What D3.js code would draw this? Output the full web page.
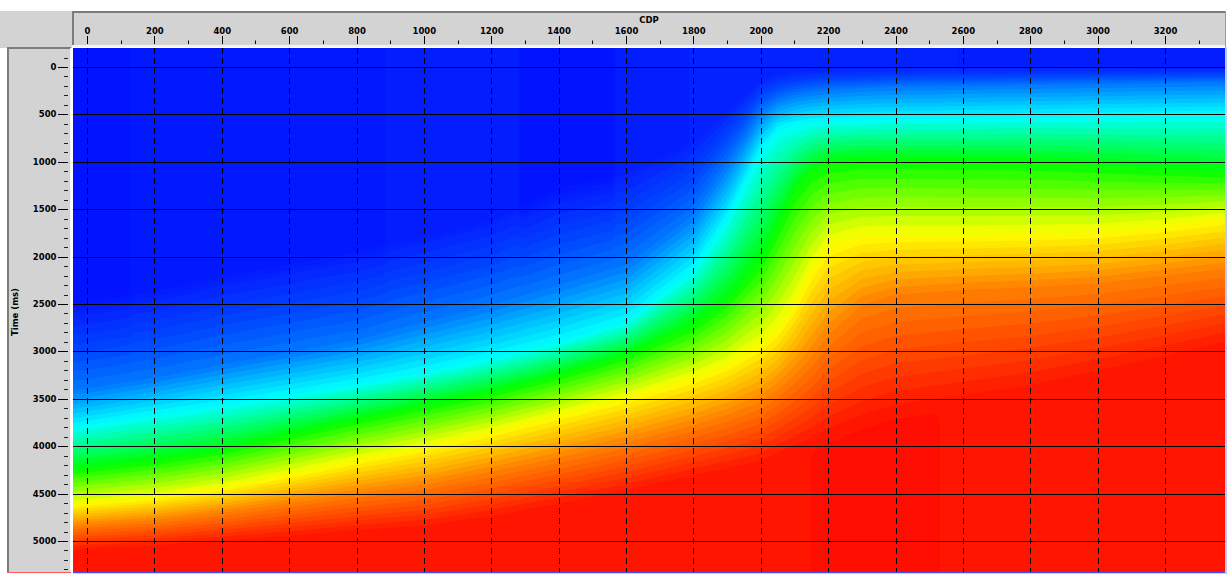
<!DOCTYPE html>
<html>
<head>
<meta charset="utf-8">
<script src="https://cdn.jsdelivr.net/npm/d3@7"></script>
<style>
  body { margin: 0; background: #fff; }
  svg { display: block; }
  text { font-family: "DejaVu Sans", sans-serif; font-weight: bold; font-size: 8.5px; fill: #000; }
</style>
</head>
<body>
<svg id="chart" width="1227" height="574"></svg>
<script>
// ---- Velocity model: interval-velocity horizons picked along CDP ----
const cdpNodes = [-50, 0, 200, 400, 600, 800, 1000, 1200, 1400, 1600, 1800, 1900,
                  2000, 2050, 2100, 2150, 2200, 2300, 2400, 2600, 2800, 3000, 3200, 3400];

// two-way time (ms) where the near-surface velocity starts to increase
const tEdge   = [2460, 2440, 2350, 2190, 2060, 1930, 1770, 1590, 1250, 1100, 770, 450,
                 120, 70, 40, 30, 20, 20, 10, 0, 0, 0, 0, 0];
// two-way time (ms) at which each velocity level is reached
const tBlue   = [3410, 3390, 3280, 3140, 3010, 2880, 2690, 2510, 2300, 2090, 1560, 1030,
                 475, 350, 295, 265, 245, 220, 210, 200, 190, 180, 170, 160];
const tCyan   = [3810, 3780, 3670, 3570, 3460, 3350, 3220, 3070, 2900, 2690, 2140, 1610,
                 880, 670, 610, 580, 570, 560, 550, 540, 530, 520, 510, 500];
const tGreen  = [4250, 4230, 4150, 4040, 3880, 3720, 3570, 3430, 3250, 3040, 2720, 2460,
                 2040, 1670, 1300, 1090, 1010, 980, 980, 990, 1000, 1030, 1070, 1110];
const tYellow = [4620, 4600, 4540, 4440, 4300, 4150, 4010, 3850, 3670, 3490, 3280, 3140,
                 2930, 2770, 2510, 2140, 1880, 1780, 1770, 1770, 1760, 1740, 1680, 1590];
const tOrange = [4850, 4830, 4780, 4700, 4600, 4500, 4410, 4270, 4120, 3960, 3780, 3670,
                 3530, 3410, 3250, 3070, 2830, 2510, 2400, 2350, 2320, 2280, 2200, 2120];
const tRed    = [5100, 5070, 5040, 4990, 4940, 4880, 4830, 4730, 4600, 4460, 4300, 4230,
                 4150, 4060, 3990, 3910, 3810, 3670, 3560, 3460, 3350, 3200, 3040, 2880];

// velocity (m/s) attached to each horizon below the edge
const levelVel = [2000, 2400, 2800, 3200, 3600, 4000];

// near-surface velocity, with its own lateral picks
const nearNodes = [-50, 125, 135, 880, 890, 1280, 1290, 1560, 1570, 1780, 1790, 2580, 2600, 3400];
const nearVel   = [1510, 1510, 1540, 1540, 1560, 1560, 1510, 1510, 1560, 1560, 1580, 1580, 1560, 1560];

// deep velocity below the last horizon
const deepNodes = [-50, 2140, 2160, 2520, 2540, 3400];
const deepVel   = [4060, 4060, 4160, 4160, 4060, 4060];

// colour table of the velocity display
const colourVel  = [1500, 1600, 1800, 2000, 2400, 2800, 3200, 3600, 4000, 4150];
const colourHex  = ["#0010ff", "#0424ff", "#0046ff", "#0078ff", "#00ffff", "#00ff00",
                    "#ffff00", "#ff8000", "#ff1a00", "#ff0a00"];

// axis ticks
const cdpTicks  = d3.range(0, 3201, 200);
const cdpMinor  = d3.range(100, 3400, 200);
const timeTicks = d3.range(0, 5001, 500);
const timeMinor = d3.range(-100, 5301, 100).filter(t => t % 500 !== 0);

// ---- Layout ----
const svg = d3.select("#chart");
const plot = { x0: 73, x1: 1225, y0: 48, y1: 572 };
const x = d3.scaleLinear().domain([0, 3200]).range([87, 1165]);
const y = d3.scaleLinear().domain([0, 5000]).range([67, 541]);
const colour = d3.scaleLinear().domain(colourVel).range(colourHex).clamp(true);

// ---- Sample the model on a pixel grid and contour it into colour bands ----
const cell = 2;
const nx = Math.ceil((plot.x1 - plot.x0) / cell);
const ny = Math.ceil((plot.y1 - plot.y0) / cell);
const edgeScale = d3.scaleLinear().domain(cdpNodes).range(tEdge);
const horizons = [tBlue, tCyan, tGreen, tYellow, tOrange, tRed]
  .map(t => d3.scaleLinear().domain(cdpNodes).range(t));
const nearScale = d3.scaleLinear().domain(nearNodes).range(nearVel);
const deepScale = d3.scaleLinear().domain(deepNodes).range(deepVel);
const values = new Float64Array(nx * ny);
for (let i = 0; i < nx; i++) {
  const cdp = x.invert(plot.x0 + (i + 0.5) * cell);
  const knotsT = [-2000, edgeScale(cdp)], knotsV = [nearScale(cdp), nearScale(cdp)];
  horizons.forEach((h, k) => {
    const t = Math.max(h(cdp), knotsT[knotsT.length - 1] + 2);
    knotsT.push(t); knotsV.push(levelVel[k]);
  });
  const last = knotsT[knotsT.length - 1];
  knotsT.push(last + 250, Math.max(9000, last + 300)); knotsV.push(deepScale(cdp), deepScale(cdp));
  const vt = d3.scaleLinear().domain(knotsT).range(knotsV);
  for (let j = 0; j < ny; j++) {
    const t = y.invert(plot.y0 + (j + 0.5) * cell);
    values[j * nx + i] = vt(t);
  }
}
const thresholds = [...d3.range(1500, 1600, 25), ...d3.range(1600, 4001, 50), 4100];
const bands = d3.contours().size([nx, ny]).thresholds(thresholds)(values);
const toPixels = d3.geoTransform({
  point(px, py) { this.stream.point(plot.x0 + px * cell, plot.y0 + py * cell); }
});
const path = d3.geoPath(toPixels);
const bandColour = (v, k) => {
  const next = k + 1 < thresholds.length ? thresholds[k + 1] : v + 50;
  return colour((v + next) / 2);
};

svg.append("clipPath").attr("id", "plotClip")
  .append("rect").attr("x", plot.x0).attr("y", plot.y0)
  .attr("width", plot.x1 - plot.x0).attr("height", plot.y1 - plot.y0);

const field = svg.append("g").attr("clip-path", "url(#plotClip)");
field.append("rect").attr("x", plot.x0).attr("y", plot.y0)
  .attr("width", plot.x1 - plot.x0).attr("height", plot.y1 - plot.y0)
  .attr("fill", colour(1500));
field.selectAll("path.band").data(bands).join("path")
  .attr("class", "band")
  .attr("d", path)
  .attr("fill", (d, k) => bandColour(d.value, k));

// ---- Grid ----
const grid = svg.append("g").attr("clip-path", "url(#plotClip)");
grid.selectAll("line.h").data(timeTicks).join("line")
  .attr("x1", plot.x0).attr("x2", plot.x1)
  .attr("y1", d => Math.round(y(d)) + 0.5).attr("y2", d => Math.round(y(d)) + 0.5)
  .attr("stroke", "#000").attr("stroke-width", 1);
grid.selectAll("line.v").data(cdpTicks).join("line")
  .attr("x1", d => Math.round(x(d)) + 0.5).attr("x2", d => Math.round(x(d)) + 0.5)
  .attr("y1", plot.y0).attr("y2", plot.y1)
  .attr("stroke", "#000").attr("stroke-width", 1).attr("stroke-dasharray", "6,4");

// ---- Frame: top (CDP) panel ----
svg.append("rect").attr("x", 0).attr("y", 11).attr("width", 72).attr("height", 37).attr("fill", "#d3d3d3");
svg.append("rect").attr("x", 72).attr("y", 11).attr("width", 1153).attr("height", 35).attr("fill", "#d3d3d3");
svg.append("line").attr("x1", 72).attr("x2", 1225).attr("y1", 12).attr("y2", 12).attr("stroke", "#7c7c7c").attr("stroke-width", 2);
svg.append("line").attr("x1", 73).attr("x2", 73).attr("y1", 11).attr("y2", 46).attr("stroke", "#7c7c7c").attr("stroke-width", 2);
svg.append("line").attr("x1", 72).attr("x2", 1225).attr("y1", 46).attr("y2", 46).attr("stroke", "#f2f2f2").attr("stroke-width", 2);
svg.append("line").attr("x1", 1225.5).attr("x2", 1225.5).attr("y1", 11).attr("y2", 47).attr("stroke", "#ff7070").attr("stroke-width", 1);

const topAxis = svg.append("g");
topAxis.selectAll("line.major").data(cdpTicks).join("line")
  .attr("x1", d => Math.round(x(d)) + 0.5).attr("x2", d => Math.round(x(d)) + 0.5)
  .attr("y1", 36).attr("y2", 44).attr("stroke", "#000");
topAxis.selectAll("line.minor").data(cdpMinor).join("line")
  .attr("x1", d => Math.round(x(d)) + 0.5).attr("x2", d => Math.round(x(d)) + 0.5)
  .attr("y1", 40.5).attr("y2", 44).attr("stroke", "#000");
topAxis.selectAll("text").data(cdpTicks).join("text")
  .attr("x", d => x(d) + 0.5).attr("y", 34).attr("text-anchor", "middle")
  .text(d => d);
svg.append("text").attr("x", (plot.x0 + plot.x1) / 2).attr("y", 23)
  .attr("text-anchor", "middle").text("CDP");

// ---- Frame: left (time) panel ----
svg.append("rect").attr("x", 7).attr("y", 47).attr("width", 64).attr("height", 526).attr("fill", "#d3d3d3");
svg.append("line").attr("x1", 8).attr("x2", 8).attr("y1", 47).attr("y2", 572).attr("stroke", "#7c7c7c").attr("stroke-width", 2);
svg.append("line").attr("x1", 7).attr("x2", 71).attr("y1", 48).attr("y2", 48).attr("stroke", "#7c7c7c").attr("stroke-width", 2);
svg.append("line").attr("x1", 70.5).attr("x2", 70.5).attr("y1", 48).attr("y2", 572).attr("stroke", "#f4f4f4").attr("stroke-width", 1);
svg.append("line").attr("x1", 7).attr("x2", 71).attr("y1", 572.5).attr("y2", 572.5).attr("stroke", "#ff5a5a").attr("stroke-width", 1);
svg.append("line").attr("x1", plot.x0).attr("x2", plot.x1).attr("y1", 572.5).attr("y2", 572.5).attr("stroke", "#4848ff").attr("stroke-width", 1.5);
svg.append("line").attr("x1", 1226).attr("x2", 1226).attr("y1", 47).attr("y2", 574).attr("stroke", "#a8b4ff").attr("stroke-width", 1.5);

const leftAxis = svg.append("g");
leftAxis.selectAll("line.major").data(timeTicks).join("line")
  .attr("x1", 58).attr("x2", 68)
  .attr("y1", d => Math.round(y(d)) + 0.5).attr("y2", d => Math.round(y(d)) + 0.5)
  .attr("stroke", "#000");
leftAxis.selectAll("line.minor").data(timeMinor).join("line")
  .attr("x1", 64).attr("x2", 68)
  .attr("y1", d => Math.round(y(d)) + 0.5).attr("y2", d => Math.round(y(d)) + 0.5)
  .attr("stroke", "#222");
leftAxis.selectAll("text").data(timeTicks).join("text")
  .attr("x", 56.5).attr("y", d => y(d)).attr("dy", "0.36em").attr("text-anchor", "end")
  .text(d => d);
svg.append("text")
  .attr("transform", `translate(17.5, ${(plot.y0 + plot.y1) / 2 + 2}) rotate(-90)`)
  .attr("text-anchor", "middle").text("Time (ms)");
</script>
</body>
</html>
